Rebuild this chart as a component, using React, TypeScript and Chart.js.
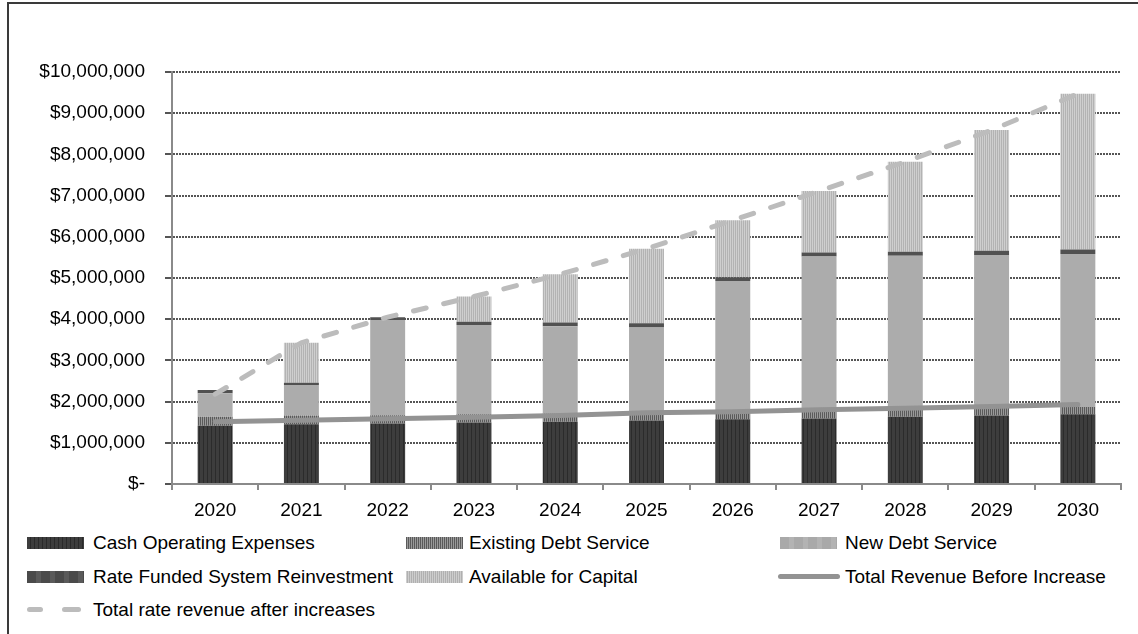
import React, { useEffect, useRef } from "react";
import { Chart, registerables } from "chart.js";

Chart.register(...registerables);

const years = ["2020", "2021", "2022", "2023", "2024", "2025", "2026", "2027", "2028", "2029", "2030"];
const cashOperatingExpenses = [1415000, 1450000, 1470000, 1490000, 1510000, 1540000, 1570000, 1590000, 1630000, 1660000, 1690000];
const existingDebtService = [220000, 210000, 200000, 200000, 200000, 200000, 200000, 200000, 190000, 190000, 180000];
const newDebtService = [565000, 740000, 2310000, 2170000, 2120000, 2060000, 3160000, 3730000, 3720000, 3710000, 3710000];
const rateFundedReinvestment = [80000, 60000, 70000, 80000, 90000, 100000, 90000, 100000, 100000, 100000, 110000];
const availableForCapital = [0, 970000, 0, 610000, 1170000, 1810000, 1380000, 1490000, 2180000, 2930000, 3780000];
const totalRevenueBeforeIncrease = [1510000, 1550000, 1585000, 1620000, 1660000, 1730000, 1755000, 1800000, 1840000, 1880000, 1930000];
const totalRateRevenueAfterIncreases = [2180000, 3430000, 4050000, 4550000, 5090000, 5710000, 6400000, 7110000, 7820000, 8590000, 9470000];

const FONT = "'Liberation Sans', Arial, sans-serif";

function stripePattern(colors: string[], widths: number[]): CanvasPattern | string {
  const c = document.createElement("canvas");
  const total = widths.reduce((a, b) => a + b, 0);
  c.width = total;
  c.height = 4;
  const g = c.getContext("2d");
  if (!g) return colors[0];
  let x = 0;
  colors.forEach((col, i) => {
    g.fillStyle = col;
    g.fillRect(x, 0, widths[i], 4);
    x += widths[i];
  });
  const p = g.createPattern(c, "repeat");
  return p || colors[0];
}

function formatMoney(v: number): string {
  if (v === 0) return "$-";
  return "$" + v.toLocaleString("en-US");
}

type LegendItem = { label: string; kind: string; bg?: string; x: number; tx: number; row: number };

const legendItems: LegendItem[] = [
  { label: "Cash Operating Expenses", kind: "box", bg: "repeating-linear-gradient(90deg, #3d3d3d 0 3px, #2a2a2a 3px 4px)", x: 27, tx: 93, row: 0 },
  { label: "Existing Debt Service", kind: "box", bg: "repeating-linear-gradient(90deg, #5a5a5a 0 1px, #9a9a9a 1px 2px)", x: 406, tx: 469, row: 0 },
  { label: "New Debt Service", kind: "box", bg: "repeating-linear-gradient(90deg, #a9a9a9 0 9px, #b3b3b3 9px 14px)", x: 780, tx: 845, row: 0 },
  { label: "Rate Funded System Reinvestment", kind: "box", bg: "repeating-linear-gradient(90deg, #4a4a4a 0 9px, #5a5a5a 9px 14px)", x: 27, tx: 93, row: 1 },
  { label: "Available for Capital", kind: "box", bg: "repeating-linear-gradient(90deg, #cdcdcd 0 1px, #b0b0b0 1px 2px)", x: 406, tx: 469, row: 1 },
  { label: "Total Revenue Before Increase", kind: "line", x: 778, tx: 845, row: 1 },
  { label: "Total rate revenue after increases", kind: "dash", x: 27, tx: 93, row: 2 },
];

const rowCenters = [543, 577, 610];

export default function App() {
  const canvasRef = useRef<HTMLCanvasElement | null>(null);

  useEffect(() => {
    const canvas = canvasRef.current;
    if (!canvas) return;
    const cashPat = stripePattern(["#3d3d3d", "#2b2b2b"], [3, 1]);
    const existPat = stripePattern(["#5a5a5a", "#9a9a9a"], [1, 1]);
    const availPat = stripePattern(["#cfcfcf", "#b3b3b3"], [1, 1]);

    const chart = new Chart(canvas, {
      type: "bar",
      data: {
        labels: years,
        datasets: [
          { type: "bar", label: "Cash Operating Expenses", data: cashOperatingExpenses, backgroundColor: cashPat as any, order: 1, stack: "bars" },
          { type: "bar", label: "Existing Debt Service", data: existingDebtService, backgroundColor: existPat as any, order: 1, stack: "bars" },
          { type: "bar", label: "New Debt Service", data: newDebtService, backgroundColor: "#acacac", order: 1, stack: "bars" },
          { type: "bar", label: "Rate Funded System Reinvestment", data: rateFundedReinvestment, backgroundColor: "#515151", order: 1, stack: "bars" },
          { type: "bar", label: "Available for Capital", data: availableForCapital, backgroundColor: availPat as any, order: 1, stack: "bars" },
          {
            type: "line", label: "Total Revenue Before Increase", data: totalRevenueBeforeIncrease,
            borderColor: "#939393", borderWidth: 5, pointRadius: 0, tension: 0, order: 0, stack: "l1",
            borderCapStyle: "round",
          },
          {
            type: "line", label: "Total rate revenue after increases", data: totalRateRevenueAfterIncreases,
            borderColor: "#bcbcbc", borderWidth: 5, pointRadius: 0, tension: 0, order: 0, stack: "l2",
            borderDash: [13, 18], borderCapStyle: "round",
          },
        ],
      } as any,
      options: {
        responsive: false,
        animation: false,
        datasets: { bar: { categoryPercentage: 1, barPercentage: 0.405 } } as any,
        layout: { padding: { top: 72, right: 17, left: 0, bottom: 0 } },
        plugins: { legend: { display: false }, tooltip: { enabled: false } },
        scales: {
          x: {
            stacked: true,
            offset: true,
            grid: { display: true, drawOnChartArea: false, drawTicks: true, tickLength: 6, color: "#8a8a8a", lineWidth: 2, offset: true },
            border: { display: true, color: "#8a8a8a", width: 2 },
            ticks: { font: { family: FONT, size: 19 }, color: "#000", padding: 9, maxRotation: 0 },
            afterFit: (s: any) => { s.height = 46; },
          },
          y: {
            stacked: true,
            min: 0,
            max: 10000000,
            ticks: { stepSize: 1000000, font: { family: FONT, size: 19 }, color: "#000", padding: 20, callback: (v: any) => formatMoney(Number(v)) },
            grid: { color: "#555555", lineWidth: 2, tickLength: 7 },
            border: { display: true, color: "#8a8a8a", width: 2, dash: [2, 1] },
            afterFit: (s: any) => { s.width = 172; },
          },
        } as any,
      },
    });
    return () => chart.destroy();
  }, []);

  return (
    <div style={{ position: "fixed", left: 0, top: 0, width: 1138, height: 634, overflow: "hidden", background: "#fff" }}>
      <div style={{ position: "absolute", left: 7, top: 2, width: 1200, height: 700, border: "2px solid #3a3a3a" }} />
      <canvas ref={canvasRef} width={1138} height={530} style={{ position: "absolute", left: 0, top: 0, width: 1138, height: 530 }} />
      {legendItems.map((it) => {
        const cy = rowCenters[it.row];
        let sample: React.ReactNode = null;
        if (it.kind === "box") {
          sample = <div style={{ position: "absolute", left: it.x, top: cy - 6, width: 57, height: 12, background: it.bg }} />;
        } else if (it.kind === "line") {
          sample = <div style={{ position: "absolute", left: it.x, top: cy - 3, width: 62, height: 5, borderRadius: 3, background: "#939393" }} />;
        } else {
          sample = (
            <>
              <div style={{ position: "absolute", left: it.x, top: cy - 3, width: 16, height: 5, borderRadius: 3, background: "#bcbcbc" }} />
              <div style={{ position: "absolute", left: it.x + 35, top: cy - 3, width: 19, height: 5, borderRadius: 3, background: "#bcbcbc" }} />
            </>
          );
        }
        return (
          <React.Fragment key={it.label}>
            {sample}
            <div style={{ position: "absolute", left: it.tx, top: cy - 12, height: 24, lineHeight: "24px", fontFamily: FONT, fontSize: 19, color: "#000", whiteSpace: "nowrap" }}>
              {it.label}
            </div>
          </React.Fragment>
        );
      })}
    </div>
  );
}
